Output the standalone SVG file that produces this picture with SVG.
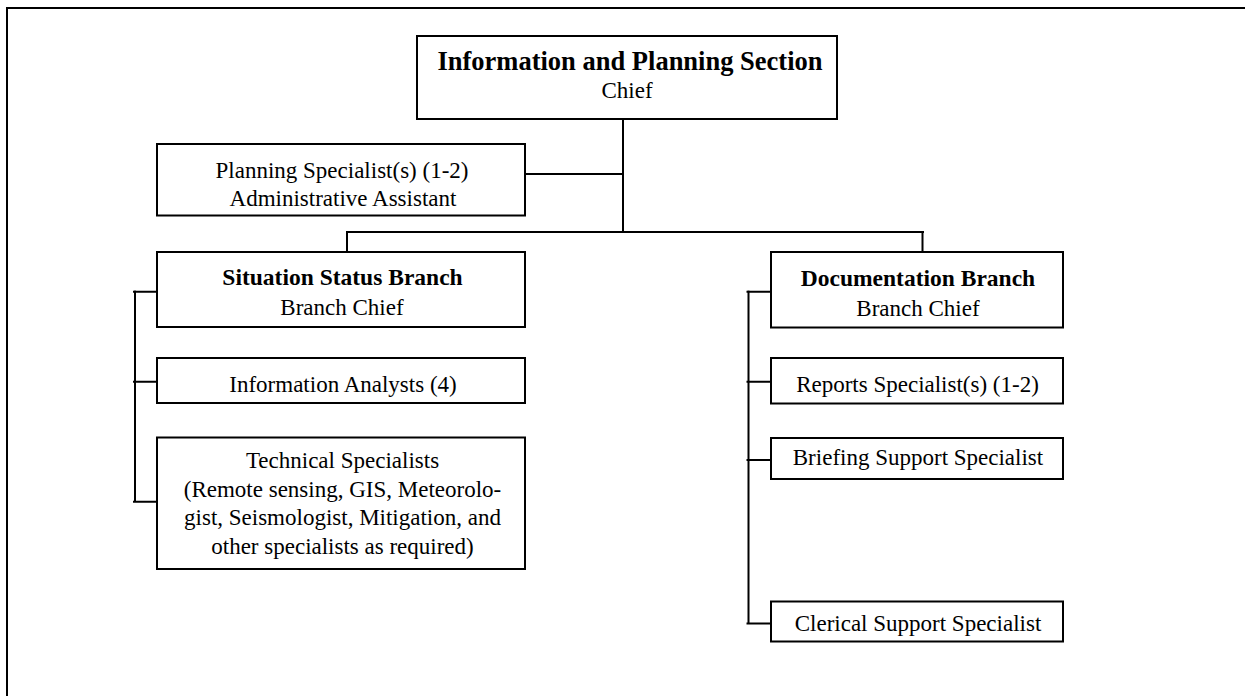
<svg xmlns="http://www.w3.org/2000/svg" width="1245" height="696" viewBox="0 0 1245 696">
<style>
.box{fill:#fff;stroke:#000;stroke-width:2}
.ln{fill:none;stroke:#000;stroke-width:2}
text{font-family:"Liberation Serif","Times New Roman",serif;fill:#000;text-anchor:middle;font-size:23px}
.b{font-weight:bold;font-size:23.5px}
.t{font-weight:bold;font-size:26.5px}
</style>
<rect width="1245" height="696" fill="#fff"/>
<path class="ln" d="M7,700 V8 H1250"/>
<g id="connectors">
<path class="ln" d="M623,119 V232 M525,174 H623 M346,232 H924 M347,232 V252 M922.5,232 V252"/>
<path class="ln" d="M135,290.5 V502.5 M133,291.7 H157 M133,381.7 H157 M133,501.7 H157"/>
<path class="ln" d="M748.5,290.5 V624.5 M746.5,291.7 H771 M746.5,381.7 H771 M746.5,460 H771 M746.5,623.5 H771"/>
</g>
<g id="chief">
<rect class="box" x="417" y="36" width="420" height="83"/>
<text class="t" x="630" y="70">Information and Planning Section</text>
<text x="627" y="98">Chief</text>
</g>
<g id="planning">
<rect class="box" x="157" y="144" width="368" height="71.5"/>
<text x="342" y="178">Planning Specialist(s) (1-2)</text>
<text x="343" y="205.5">Administrative Assistant</text>
</g>
<g id="situation">
<rect class="box" x="157" y="252" width="368" height="75"/>
<text class="b" x="342.5" y="285">Situation Status Branch</text>
<text x="342" y="315">Branch Chief</text>
</g>
<g id="analysts">
<rect class="box" x="157" y="358" width="368" height="45"/>
<text x="343" y="392">Information Analysts (4)</text>
</g>
<g id="technical">
<rect class="box" x="157" y="437.5" width="368" height="131.5"/>
<text x="342.5" y="467.5">Technical Specialists</text>
<text x="342.5" y="496.5">(Remote sensing, GIS, Meteorolo-</text>
<text x="342.5" y="525">gist, Seismologist, Mitigation, and</text>
<text x="342.5" y="553.5">other specialists as required)</text>
</g>
<g id="documentation">
<rect class="box" x="771" y="252" width="292" height="75.5"/>
<text class="b" x="918" y="286">Documentation Branch</text>
<text x="918" y="316">Branch Chief</text>
</g>
<g id="reports">
<rect class="box" x="771" y="358" width="292" height="45.5"/>
<text x="917.5" y="391.5">Reports Specialist(s) (1-2)</text>
</g>
<g id="briefing">
<rect class="box" x="771" y="438" width="292" height="41"/>
<text x="918" y="465">Briefing Support Specialist</text>
</g>
<g id="clerical">
<rect class="box" x="771" y="601.5" width="292" height="40"/>
<text x="918" y="631">Clerical Support Specialist</text>
</g>
</svg>
